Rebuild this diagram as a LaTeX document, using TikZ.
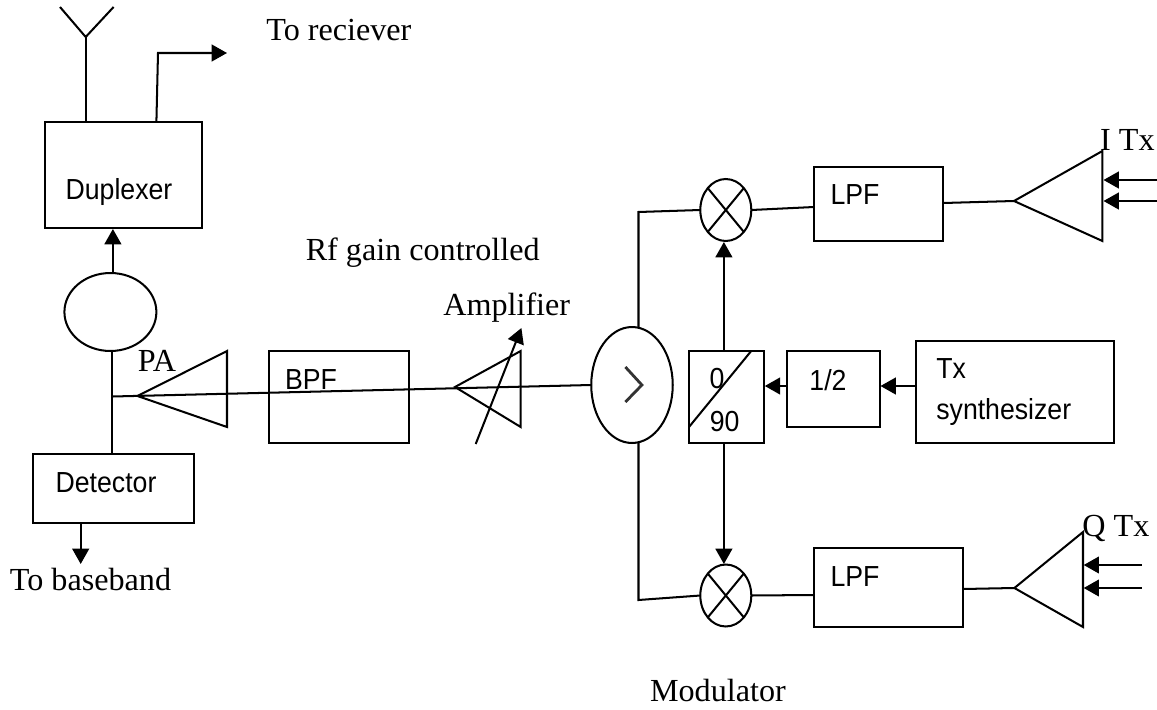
\documentclass[tikz,border=0pt]{standalone}
\usepackage{fontspec}
\setmainfont{Liberation Serif}
\setsansfont{Liberation Sans}
\usetikzlibrary{shapes.geometric,arrows.meta}

\tikzset{
    wire/.style={line width=1.15pt},
    feed/.style={line width=1.15pt, -{Triangle[length=8.7pt,width=9.5pt]}},
    blockbox/.style={draw, line width=1.15pt, rectangle, inner sep=0pt, outer sep=0pt},
    roundbox/.style={draw, line width=1.15pt, ellipse, inner sep=0pt, outer sep=0pt},
    serifcap/.style={font=\rmfamily\fontsize{18.3}{22}\selectfont, inner sep=0pt, anchor=base west},
    sanscap/.style={font=\sffamily\fontsize{16.5}{20}\selectfont, inner sep=0pt, xscale=0.92, transform shape},
}

\begin{document}
\begin{tikzpicture}[x=0.02cm,y=-0.02cm]
    \useasboundingbox (0,0) rectangle (1157,710);

    % antenna and duplexer
    \node[blockbox, minimum width=3.15cm, minimum height=2.12cm] (duplexer) at (123.3,175) {};
    \node[sanscap] (duplexertext) at (119,192) {Duplexer};
    \coordinate (antfoot) at (85.7,122);
    \coordinate (antroot) at (85.7,37);
    \coordinate (antleft) at (60,7);
    \coordinate (antright) at (113.6,7);
    \draw [wire] (antfoot) -- (antroot);
    \draw [wire] (antleft) -- (antroot) -- (antright);
    \coordinate (rxfoot) at (156.4,122);
    \coordinate (rxelbow) at (158,53);
    \coordinate (rxtip) at (227,53);
    \draw [feed] (rxfoot) -- (rxelbow) -- (rxtip);
    \node[serifcap] (rxtext) at (266,40) {To reciever};

    % circulator, detector
    \node[roundbox, minimum width=1.84cm, minimum height=1.56cm] (circ) at (110.4,312) {};
    \coordinate (circtop) at (112.9,273);
    \coordinate (duplexerfoot) at (112.9,229);
    \draw [feed] (circtop) -- (duplexerfoot);
    \node[blockbox, minimum width=3.21cm, minimum height=1.38cm] (detector) at (113.3,488.5) {};
    \node[sanscap] (detectortext) at (106,483) {Detector};
    \coordinate (circfoot) at (112,351);
    \coordinate (detectortop) at (112,454);
    \draw [wire] (circfoot) -- (detectortop);
    \coordinate (detectorfoot) at (80.7,523);
    \coordinate (basebandtip) at (80.7,564);
    \draw [feed] (detectorfoot) -- (basebandtip);
    \node[serifcap] (basebandtext) at (9.6,590) {To baseband};

    % PA, BPF, gain controlled amplifier
    \coordinate (junction) at (112.5,396.5);
    \coordinate (patip) at (137.5,396);
    \coordinate (patop) at (227,351);
    \coordinate (pafoot) at (227,427);
    \draw [wire] (patip) -- (patop) -- (pafoot) -- cycle;
    \node[serifcap] (patext) at (137.5,371) {PA};
    \node[blockbox, minimum width=2.8cm, minimum height=1.84cm] (bpf) at (338.6,397) {};
    \node[sanscap] (bpftext) at (311,379.6) {BPF};
    \coordinate (amptip) at (455,387);
    \coordinate (amptop) at (520.7,351);
    \coordinate (ampfoot) at (520.7,427);
    \draw [wire] (amptip) -- (amptop) -- (ampfoot) -- cycle;
    \coordinate (ampctrlfoot) at (475.7,444);
    \coordinate (ampctrltip) at (521.4,328);
    \draw [feed] (ampctrlfoot) -- (ampctrltip);
    \node[serifcap] (rftext) at (305.4,260) {Rf gain controlled};
    \node[serifcap] (amptext) at (443,315) {Amplifier};

    % splitter
    \node[roundbox, minimum width=1.63cm, minimum height=2.32cm] (splitter) at (632,385) {};
    \draw [wire] (junction) -- (splitter.west);
    \draw [line width=1.6pt, black!80] (625.4,367) -- (641.9,385) -- (625.4,402);

    % I path
    \node[roundbox, minimum width=1.02cm, minimum height=1.24cm] (mixI) at (725.8,210) {};
    \draw [wire] (mixI.north west) -- (mixI.south east);
    \draw [wire] (mixI.north east) -- (mixI.south west);
    \node[blockbox, minimum width=2.59cm, minimum height=1.48cm] (lpfI) at (878.7,204) {};
    \node[sanscap] (lpfItext) at (855,195) {LPF};
    \coordinate (splittertop) at (638.5,327.5);
    \coordinate (elbowI) at (638.5,212);
    \draw [wire] (splittertop) -- (elbowI) -- (mixI.west);
    \coordinate (lpfIin) at (814,207);
    \draw [wire] (mixI.east) -- (lpfIin);
    \coordinate (lpfIout) at (943.3,203);
    \coordinate (driveItip) at (1014,201);
    \coordinate (driveItop) at (1102.4,151);
    \coordinate (driveIfoot) at (1102.4,241);
    \draw [wire] (lpfIout) -- (driveItip);
    \draw [wire] (driveItip) -- (driveItop) -- (driveIfoot) -- cycle;
    \foreach \y in {180,201} {
        \coordinate (edgeI) at (1157,\y);
        \coordinate (pinI) at (1103.5,\y);
        \draw [feed] (edgeI) -- (pinI);
    }
    \node[serifcap] (itext) at (1099.8,150) {I Tx};

    % LO chain
    \node[blockbox, minimum width=1.51cm, minimum height=1.84cm] (shifter) at (726.6,397) {};
    \coordinate (slashfoot) at (689,427);
    \coordinate (slashtop) at (751.2,351);
    \draw [wire] (slashfoot) -- (slashtop);
    \node[sanscap] (zerotext) at (717,379) {0};
    \node[sanscap] (ninetytext) at (724.6,422) {90};
    \node[blockbox, minimum width=1.86cm, minimum height=1.52cm] (halver) at (833.4,389) {};
    \node[sanscap] (halvertext) at (828,380) {1/2};
    \node[blockbox, minimum width=3.95cm, minimum height=2.04cm] (synth) at (1014.8,392) {};
    \node[sanscap, anchor=west] (synthtexta) at (936,369) {Tx};
    \node[sanscap, anchor=west] (synthtextb) at (936,411.7) {synthesizer};
    \coordinate (synthport) at (916,386);
    \coordinate (halverin) at (880.5,386);
    \coordinate (halverout) at (786.8,386);
    \coordinate (shifterin) at (764.8,386);
    \draw [feed] (synthport) -- (halverin);
    \draw [feed] (halverout) -- (shifterin);
    \coordinate (shiftertop) at (723.9,351);
    \coordinate (mixIfoot) at (723.9,242);
    \coordinate (shifterfoot) at (723.9,443);
    \coordinate (mixQtop) at (723.9,564);
    \draw [feed] (shiftertop) -- (mixIfoot);
    \draw [feed] (shifterfoot) -- (mixQtop);

    % Q path
    \node[roundbox, minimum width=1.02cm, minimum height=1.24cm] (mixQ) at (725.8,595.5) {};
    \draw [wire] (mixQ.north west) -- (mixQ.south east);
    \draw [wire] (mixQ.north east) -- (mixQ.south west);
    \node[blockbox, minimum width=2.98cm, minimum height=1.58cm] (lpfQ) at (888.6,587.5) {};
    \node[sanscap] (lpfQtext) at (855,577) {LPF};
    \coordinate (splitterfoot) at (638.5,442.5);
    \coordinate (elbowQ) at (638.5,600);
    \draw [wire] (splitterfoot) -- (elbowQ) -- (mixQ.west);
    \coordinate (lpfQin) at (814,595);
    \draw [wire] (mixQ.east) -- (lpfQin);
    \coordinate (lpfQout) at (963,589);
    \coordinate (driveQtip) at (1014.4,588);
    \coordinate (driveQtop) at (1083,532);
    \coordinate (driveQfoot) at (1083,627);
    \draw [wire] (lpfQout) -- (driveQtip);
    \draw [wire] (driveQtip) -- (driveQtop) -- (driveQfoot) -- cycle;
    \foreach \y in {565,588} {
        \coordinate (edgeQ) at (1141.7,\y);
        \coordinate (pinQ) at (1083.7,\y);
        \draw [feed] (edgeQ) -- (pinQ);
    }
    \node[serifcap] (qtext) at (1082,536) {Q Tx};

    \node[serifcap] (modtext) at (649.7,701.7) {Modulator};
\end{tikzpicture}
\end{document}
